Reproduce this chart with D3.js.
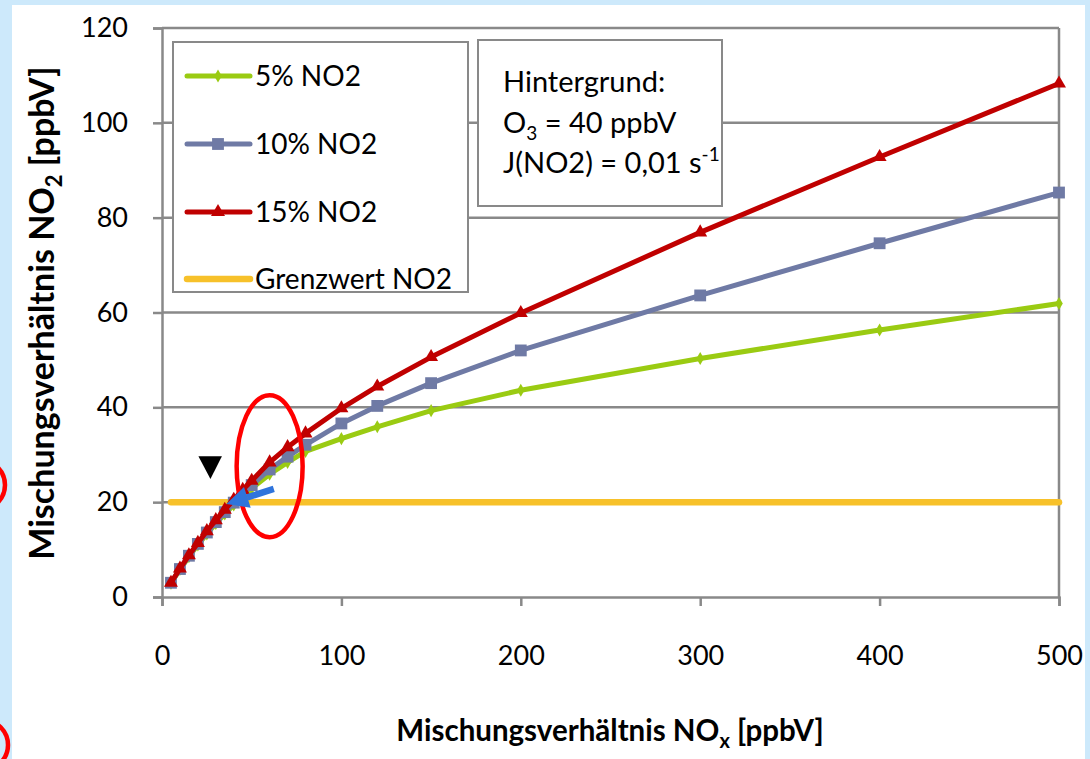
<!DOCTYPE html>
<html>
<head>
<meta charset="utf-8">
<script src="https://cdn.jsdelivr.net/npm/d3@7"></script>
<style>
  html, body { margin: 0; padding: 0; background: #cde9fb; }
  svg { display: block; }
  text { font-family: Lato, "Open Sans", sans-serif; fill: #000; }
</style>
</head>
<body>
<svg id="chart" width="1090" height="759"></svg>
<script>
// NOx mixing ratio (ppbV) at which NO2 was computed
const noxValues = [5, 10, 15, 20, 25, 30, 35, 40, 45, 50, 60, 70, 80, 100, 120, 150, 200, 300, 400, 500];
// NO2 mixing ratio (ppbV) for primary NO2 fractions of 5 %, 10 %, 15 %
const no2Share5 = [2.9, 5.8, 8.5, 11.0, 13.3, 15.5, 17.5, 19.4, 21.2, 22.9, 25.9, 28.4, 30.7, 33.4, 35.9, 39.3, 43.6, 50.3, 56.3, 61.9];
const no2Share10 = [3.0, 5.9, 8.7, 11.2, 13.6, 15.8, 17.9, 19.9, 21.8, 23.6, 26.9, 29.6, 32.1, 36.6, 40.3, 45.1, 52.0, 63.6, 74.6, 85.3];
const no2Share15 = [3.0, 6.0, 8.8, 11.4, 13.9, 16.2, 18.4, 20.5, 22.6, 24.5, 28.4, 31.6, 34.5, 39.8, 44.4, 50.6, 59.9, 76.9, 92.8, 108.3];
// NO2 limit value
const limitNox = [5, 500];
const limitNo2 = [20, 20];
// axis ticks
const xTickValues = [0, 100, 200, 300, 400, 500];
const yTickValues = [0, 20, 40, 60, 80, 100, 120];
const seriesNames = ["5% NO2", "10% NO2", "15% NO2", "Grenzwert NO2"];

const svg = d3.select("#chart");
const gridColor = "#898989";

// page panel
svg.append("rect").attr("x", 12).attr("y", 5).attr("width", 1073).attr("height", 760).attr("fill", "#ffffff");

const x = d3.scaleLinear().domain([0, 500]).range([162, 1059]);
const y = d3.scaleLinear().domain([0, 120]).range([597, 28]);

// horizontal gridlines
svg.append("g").selectAll("line").data(yTickValues.filter(v => v > 0)).join("line")
  .attr("x1", x(0)).attr("x2", x(500))
  .attr("y1", d => y(d)).attr("y2", d => y(d))
  .attr("stroke", gridColor).attr("stroke-width", 2.5);
// right border of plot area
svg.append("line").attr("x1", x(500)).attr("x2", x(500)).attr("y1", y(0)).attr("y2", y(120))
  .attr("stroke", gridColor).attr("stroke-width", 2.5);

// axes
const yAxis = svg.append("g").attr("transform", `translate(${x(0)},0)`)
  .call(d3.axisLeft(y).tickValues(yTickValues).tickSize(9).tickPadding(25).tickFormat(d3.format("d")));
const xAxis = svg.append("g").attr("transform", `translate(0,${y(0)})`)
  .call(d3.axisBottom(x).tickValues(xTickValues).tickSize(9).tickPadding(40).tickFormat(d3.format("d")));
[yAxis, xAxis].forEach(g => {
  g.select(".domain").attr("stroke", gridColor).attr("stroke-width", 2.5);
  g.selectAll(".tick line").attr("stroke", gridColor).attr("stroke-width", 2.5);
  g.selectAll(".tick text").attr("font-family", "Lato, sans-serif").attr("font-size", 27).attr("fill", "#000");
});

// series
const colors = { s5: "#9acb12", s10: "#6f7aa5", s15: "#c00000", limit: "#f7c12a" };
const line = d3.line().x(d => x(d[0])).y(d => y(d[1]));

svg.append("path").datum(d3.zip(limitNox, limitNo2)).attr("d", line)
  .attr("fill", "none").attr("stroke", colors.limit).attr("stroke-width", 6.5).attr("stroke-linecap", "round");

const series = [
  { vals: no2Share5, color: colors.s5, symbol: d3.symbolDiamond, size: 50 },
  { vals: no2Share10, color: colors.s10, symbol: d3.symbolSquare, size: 140 },
  { vals: no2Share15, color: colors.s15, symbol: d3.symbolTriangle, size: 85 }
];
series.forEach(s => {
  const pts = d3.zip(noxValues, s.vals);
  svg.append("path").datum(pts).attr("d", line)
    .attr("fill", "none").attr("stroke", s.color).attr("stroke-width", 5).attr("stroke-linejoin", "round");
  svg.append("g").selectAll("path").data(pts).join("path")
    .attr("transform", d => `translate(${x(d[0])},${y(d[1])})`)
    .attr("d", d3.symbol(s.symbol, s.size)).attr("fill", s.color);
});

// legend
const legend = svg.append("g");
legend.append("rect").attr("x", 173).attr("y", 42).attr("width", 295).attr("height", 250)
  .attr("fill", "#fff").attr("stroke", gridColor).attr("stroke-width", 2);
const legendRows = [
  { name: seriesNames[0], color: colors.s5, symbol: d3.symbolDiamond, size: 50, w: 5 },
  { name: seriesNames[1], color: colors.s10, symbol: d3.symbolSquare, size: 140, w: 5 },
  { name: seriesNames[2], color: colors.s15, symbol: d3.symbolTriangle, size: 85, w: 5 },
  { name: seriesNames[3], color: colors.limit, symbol: null, size: 0, w: 6.5 }
];
const rowY = [76, 144, 212, 279];
legendRows.forEach((r, i) => {
  const g = legend.append("g").attr("transform", `translate(0,${rowY[i]})`);
  g.append("line").attr("x1", 187).attr("x2", 250).attr("y1", 0).attr("y2", 0)
    .attr("stroke", r.color).attr("stroke-width", r.w).attr("stroke-linecap", "round");
  if (r.symbol) g.append("path").attr("transform", "translate(218,0)").attr("d", d3.symbol(r.symbol, r.size)).attr("fill", r.color);
  g.append("text").attr("x", 255).attr("y", 10).attr("font-size", 28).text(r.name);
});

// annotation box with the background conditions
const note = svg.append("g");
note.append("rect").attr("x", 478).attr("y", 40).attr("width", 244).attr("height", 166)
  .attr("fill", "#fff").attr("stroke", gridColor).attr("stroke-width", 2);
note.append("text").attr("x", 503).attr("y", 92).attr("font-size", 29).text("Hintergrund:");
const t2 = note.append("text").attr("x", 503).attr("y", 133).attr("font-size", 29);
t2.append("tspan").text("O");
t2.append("tspan").attr("font-size", 19).attr("dy", 7).text("3");
t2.append("tspan").attr("dy", -7).text(" = 40 ppbV");
const t3 = note.append("text").attr("x", 503).attr("y", 173).attr("font-size", 29);
t3.append("tspan").text("J(NO2) = 0,01 s");
t3.append("tspan").attr("font-size", 19).attr("dy", -12).text("-1");

// axis titles
const xt = svg.append("text").attr("x", 610).attr("y", 741).attr("text-anchor", "middle")
  .attr("font-size", 29.5).attr("font-weight", "bold");
xt.append("tspan").text("Mischungsverhältnis NO");
xt.append("tspan").attr("font-size", 20).attr("dy", 7).text("x");
xt.append("tspan").attr("dy", -7).text(" [ppbV]");

const yt = svg.append("text").attr("transform", "translate(54,313) rotate(-90)").attr("text-anchor", "middle")
  .attr("font-size", 34).attr("font-weight", "bold");
yt.append("tspan").text("Mischungsverhältnis NO");
yt.append("tspan").attr("font-size", 22).attr("dy", 8).text("2");
yt.append("tspan").attr("dy", -8).text(" [ppbV]");

// highlight marks around the limit-value crossing
const hl = svg.append("g");
hl.append("ellipse").attr("cx", x(60)).attr("cy", y(27.6)).attr("rx", 33).attr("ry", 71)
  .attr("fill", "none").attr("stroke", "#ff0000").attr("stroke-width", 4.5);
hl.append("path").attr("d", d3.line()([[x(20.3), y(29.7)], [x(33.4), y(29.7)], [x(27.0), y(24.9)]]) + "Z")
  .attr("fill", "#000");
// blue arrow pointing to the crossing
const tip = [x(35.9), y(19.6)], tail = [x(62.3), y(22.8)];
const ang = Math.atan2(tail[1] - tip[1], tail[0] - tip[0]);
const headLen = 22, headHalf = 11;
const bx = tip[0] + headLen * Math.cos(ang), by = tip[1] + headLen * Math.sin(ang);
const px = -Math.sin(ang), py = Math.cos(ang);
hl.append("line").attr("x1", bx).attr("y1", by).attr("x2", tail[0]).attr("y2", tail[1])
  .attr("stroke", "#2f74dc").attr("stroke-width", 6.5);
hl.append("path").attr("d", d3.line()([tip, [bx + px * headHalf, by + py * headHalf], [bx - px * headHalf, by - py * headHalf]]) + "Z")
  .attr("fill", "#2f74dc");

// partial circles at the left page edge
hl.append("circle").attr("cx", -20).attr("cy", 485).attr("r", 25)
  .attr("fill", "none").attr("stroke", "#ff0000").attr("stroke-width", 4.5);
hl.append("circle").attr("cx", -17).attr("cy", 745).attr("r", 25)
  .attr("fill", "none").attr("stroke", "#ff0000").attr("stroke-width", 4.5);
</script>
</body>
</html>
